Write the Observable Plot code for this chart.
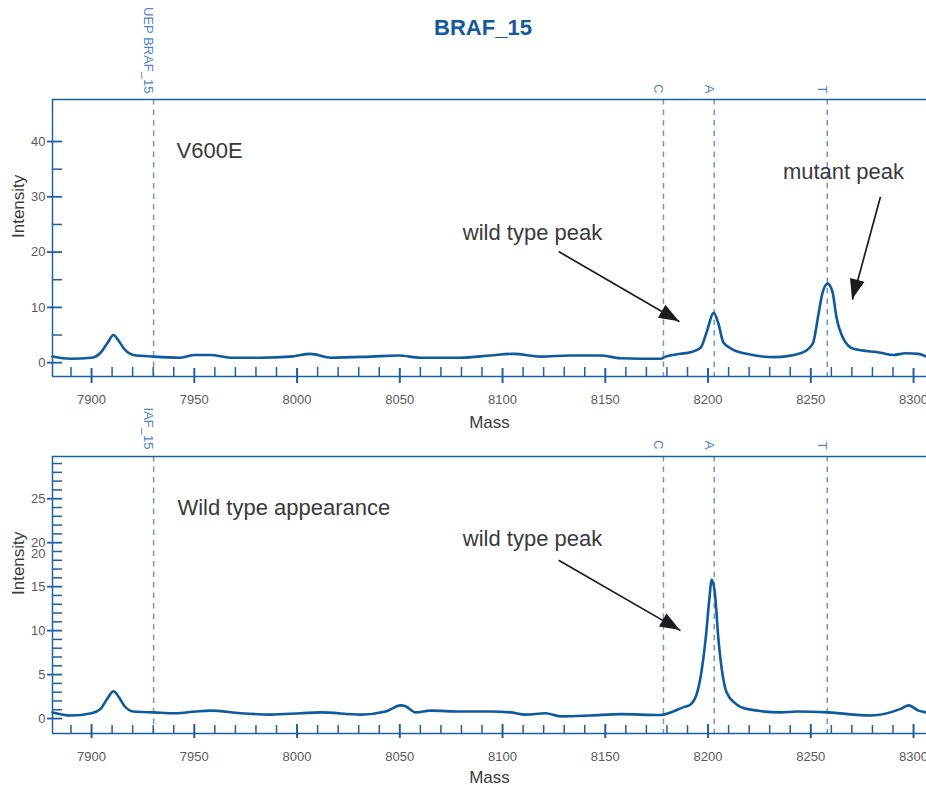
<!DOCTYPE html>
<html><head><meta charset="utf-8">
<script src="https://cdn.jsdelivr.net/npm/d3@7"></script>
<script src="https://cdn.jsdelivr.net/npm/@observablehq/plot@0.6"></script>
<style>
body{margin:0;background:#fff;}
#root{position:relative;width:926px;height:785px;overflow:hidden;font-family:"Liberation Sans",Arial,sans-serif;}
#title{position:absolute;left:483px;top:17px;transform:translateX(-50%);font-size:22px;line-height:22px;font-weight:bold;color:#13599b;white-space:nowrap;}
.panel{position:absolute;left:0;}
</style></head><body>
<div id="root"><div id="top" class="panel" style="top:0"></div><div id="bottom" class="panel" style="top:430px"></div><div id="title">BRAF_15</div></div>
<script>
// ---------- data ----------
const xDomain = [7881, 8306.3];
const xMajorTicks = [7900, 7950, 8000, 8050, 8100, 8150, 8200, 8250, 8300];
const xMinorTicks = [7890, 7910, 7920, 7930, 7940, 7960, 7970, 7980, 7990, 8010, 8020, 8030, 8040,
  8060, 8070, 8080, 8090, 8110, 8120, 8130, 8140, 8160, 8170, 8180, 8190, 8210, 8220, 8230, 8240,
  8260, 8270, 8280, 8290];

const topMass = [7881.0, 7889.8, 7900, 7904.4, 7907.8, 7910.7, 7913.1, 7916.1, 7920.4, 7930.2,
  7943.3, 7950.1, 7957.9, 7967.6, 7982.2, 7996.8, 8006.6, 8016.3, 8035.8, 8049.4,
  8060.1, 8079.6, 8094.2, 8105.4, 8118.5, 8133.1, 8147.7, 8157.4, 8176.9, 8179.3,
  8186.6, 8191.5, 8196.4, 8199.3, 8202.7, 8205.1, 8207.4, 8211.4, 8218.7, 8232.3,
  8245.0, 8250.9, 8253.8, 8255.6, 8258.2, 8260.6, 8262.5, 8265.9, 8270.8, 8283.9,
  8290.3, 8296.1, 8302.4, 8306.3];
const topIntensity = [1.1, 0.7, 0.9, 1.8, 3.6, 5.0, 4.0, 2.4, 1.4, 1.1,
  0.9, 1.4, 1.4, 0.9, 0.9, 1.1, 1.6, 0.9, 1.1, 1.3,
  0.9, 0.9, 1.3, 1.6, 1.1, 1.3, 1.3, 0.8, 0.7, 1.1,
  1.6, 1.9, 2.7, 5.5, 9.0, 7.0, 3.7, 2.5, 1.6, 1.0,
  1.7, 3.4, 8.9, 12.5, 14.3, 12.7, 8.2, 4.3, 2.5, 1.8,
  1.4, 1.7, 1.6, 1.1];

const bottomMass = [7881.0, 7889.8, 7900, 7904.4, 7907.8, 7910.7, 7913.1, 7916.1, 7920.4, 7930.2,
  7940.9, 7950.6, 7957.9, 7972.5, 7987.1, 8001.7, 8011.4, 8030.9, 8043.1, 8050.4,
  8052.8, 8057.7, 8065.0, 8079.6, 8094.2, 8103.9, 8111.2, 8120.9, 8128.2, 8142.8,
  8157.4, 8176.9, 8181.8, 8188.1, 8191.5, 8195.0, 8196.9, 8198.8, 8200.8, 8201.7,
  8203.2, 8205.1, 8209.0, 8213.4, 8218.7, 8235.3, 8243.5, 8258.2, 8279.1, 8293.7,
  8297.6, 8302.4, 8306.3];
const bottomIntensity = [0.7, 0.35, 0.6, 1.1, 2.3, 3.1, 2.5, 1.4, 0.8, 0.7,
  0.6, 0.8, 0.9, 0.6, 0.45, 0.6, 0.7, 0.45, 0.8, 1.5,
  1.4, 0.7, 0.9, 0.8, 0.8, 0.7, 0.45, 0.6, 0.25, 0.35,
  0.5, 0.4, 0.7, 1.3, 1.6, 3.2, 5.5, 9.0, 14.0, 15.8,
  14.5, 8.9, 3.0, 1.7, 1.1, 0.7, 0.8, 0.7, 0.35, 1.1,
  1.5, 0.9, 0.7];

const topLineMass = [7930.2, 8178.3, 8203.0, 8258.0];
const topLineLabel = ["UEP BRAF_15", "C", "A", "T"];
const bottomLineMass = [7930.2, 8178.3, 8203.0, 8258.0];
const bottomLineLabel = ["IAF_15", "C", "A", "T"];

const topYDomain = [-2.5, 47.6];
const topYMajor = [0, 10, 20, 30, 40];
const topYMinor = [5, 15, 25, 35];
const topYLabelPos = [0, 10, 20, 30, 40];
const topYLabelText = ["0", "10", "20", "30", "40"];

const bottomYDomain = [-1.7, 29.8];
const bottomYMajor = [0, 5, 10, 15, 20, 25];
const bottomYMinor = [1, 2, 3, 4, 6, 7, 8, 9, 11, 12, 13, 14, 16, 17, 18, 19, 21, 22, 23, 24, 26, 27, 28, 29];
const bottomYLabelPos = [0, 5, 10, 15, 20, 25, 18.75];
const bottomYLabelText = ["0", "5", "10", "15", "20", "25", "20"];

const topNoteText = ["V600E", "mutant peak", "wild type peak"];
const topNoteMass = [7941.4, 8265.9, 8114.6];
const topNoteIntensity = [38.3, 34.5, 23.5];
const topNoteAnchor = ["start", "middle", "middle"];
const bottomNoteText = ["Wild type appearance", "wild type peak"];
const bottomNoteMass = [7941.8, 8114.6];
const bottomNoteIntensity = [23.9, 20.4];
const bottomNoteAnchor = ["start", "middle"];

const topArrowX1 = [8127.3, 8283.9];
const topArrowY1 = [20.1, 30.0];
const topArrowX2 = [8186.1, 8270.3];
const topArrowY2 = [7.4, 11.4];
const bottomArrowX1 = [8127.3];
const bottomArrowY1 = [18.0];
const bottomArrowX2 = [8186.6];
const bottomArrowY2 = [10.0];

// ---------- style ----------
const FONT = '"Liberation Sans", Arial, sans-serif';
const LINE = "#0d5a9c", AXIS = "#1f60a2", DASH = "#7096cc", LABEL = "#4f84c4", TICK = "#5a5a5a", TXT = "#3a3a3a", ARROW = "#1c1c1c";

function panel(c) {
  const [yLo, yHi] = c.yDomain;
  const x0 = xDomain[0];
  const data = c.mass.map((m, i) => ({mass: m, intensity: c.intensity[i]}));
  const arrows = c.arrowX1.map((_, i) => ({x1: c.arrowX1[i], y1: c.arrowY1[i], x2: c.arrowX2[i], y2: c.arrowY2[i]}));
  const notes = c.noteText.map((t, i) => ({text: t, mass: c.noteMass[i], intensity: c.noteIntensity[i], anchor: c.noteAnchor[i]}));
  const heads = (index, scales) => {
    const g = d3.create("svg:g");
    for (const a of arrows) {
      const sx = scales.x(a.x1), sy = scales.y(a.y1), tx = scales.x(a.x2), ty = scales.y(a.y2);
      const dx = tx - sx, dy = ty - sy, L = Math.hypot(dx, dy), ux = dx / L, uy = dy / L;
      const bx = tx - ux * 20, by = ty - uy * 20, px = -uy * 7.5, py = ux * 7.5;
      g.append("path").attr("d", `M${tx},${ty}L${bx + px},${by + py}L${bx - px},${by - py}Z`).attr("fill", ARROW);
    }
    return g.node();
  };
  return Plot.plot({
    width: 926, height: c.height, marginTop: c.marginTop, marginBottom: c.marginBottom, marginLeft: 52, marginRight: 0,
    x: {domain: xDomain, axis: null},
    y: {domain: c.yDomain, axis: null},
    style: {fontFamily: FONT, overflow: "visible", background: "transparent"},
    marks: [
      Plot.ruleX(c.lineMass, {x: d => d, stroke: DASH, strokeWidth: 1.5, strokeDasharray: "5.5,5"}),
      Plot.line(data, {x: "mass", y: "intensity", stroke: LINE, strokeWidth: 2.6, curve: "monotone-x", strokeLinejoin: "round"}),
      Plot.ruleY([yHi], {stroke: AXIS, strokeWidth: 1.5}),
      Plot.ruleY([yLo], {stroke: AXIS, strokeWidth: 1.5}),
      Plot.ruleX([x0], {stroke: AXIS, strokeWidth: 1.5}),
      Plot.ruleX(xMajorTicks, {x: d => d, y1: () => yLo, y2: () => yLo, insetTop: c.xTickOut, insetBottom: c.xTickIn, stroke: AXIS, strokeWidth: 2}),
      Plot.ruleX(xMinorTicks, {x: d => d, y1: () => yLo, y2: () => yLo, insetTop: 0, insetBottom: c.xMinorIn, stroke: AXIS, strokeWidth: 1.5}),
      Plot.ruleY(c.yMajor, {y: d => d, x1: () => x0, x2: () => x0, insetLeft: -5, insetRight: -10, stroke: AXIS, strokeWidth: 1.8}),
      Plot.ruleY(c.yMinor, {y: d => d, x1: () => x0, x2: () => x0, insetLeft: 0, insetRight: -10, stroke: AXIS, strokeWidth: 1.5}),
      Plot.text(xMajorTicks, {x: d => d, text: d => String(d), frameAnchor: "bottom", dy: 27, fontSize: 13, fill: TICK}),
      Plot.text(c.yLabelPos, {y: d => d, text: (d, i) => c.yLabelText[i], frameAnchor: "left", dx: -7, textAnchor: "end", fontSize: 13, fill: TICK}),
      Plot.text(["Intensity"], {frameAnchor: "left", rotate: -90, dx: -34, fontSize: 17, fill: TXT}),
      Plot.text(["Mass"], {frameAnchor: "bottom", dy: c.massDy, fontSize: 17, fill: TXT}),
      Plot.text(c.lineMass, {x: d => d, text: (d, i) => c.lineLabel[i], frameAnchor: "top", rotate: 90, textAnchor: "end", dy: c.labelDy, fontSize: 13, fill: LABEL}),
      Plot.text(notes, {filter: d => d.anchor === "start", x: "mass", y: "intensity", text: "text", textAnchor: "start", fontSize: 22, fill: TXT}),
      Plot.text(notes, {filter: d => d.anchor === "middle", x: "mass", y: "intensity", text: "text", textAnchor: "middle", fontSize: 22, fill: TXT}),
      Plot.link(arrows, {x1: "x1", y1: "y1", x2: "x2", y2: "y2", stroke: ARROW, strokeWidth: 1.7}),
      heads
    ]
  });
}

document.getElementById("top").appendChild(panel({
  mass: topMass, intensity: topIntensity, yDomain: topYDomain, height: 430, marginTop: 99, marginBottom: 54,
  yMajor: topYMajor, yMinor: topYMinor, yLabelPos: topYLabelPos, yLabelText: topYLabelText,
  lineMass: topLineMass, lineLabel: topLineLabel, labelDy: -6,
  noteText: topNoteText, noteMass: topNoteMass, noteIntensity: topNoteIntensity, noteAnchor: topNoteAnchor,
  arrowX1: topArrowX1, arrowY1: topArrowY1, arrowX2: topArrowX2, arrowY2: topArrowY2,
  xTickOut: 7, xTickIn: 8, xMinorIn: 9, massDy: 51
}));
document.getElementById("bottom").appendChild(panel({
  mass: bottomMass, intensity: bottomIntensity, yDomain: bottomYDomain, height: 355, marginTop: 26, marginBottom: 52,
  yMajor: bottomYMajor, yMinor: bottomYMinor, yLabelPos: bottomYLabelPos, yLabelText: bottomYLabelText,
  lineMass: bottomLineMass, lineLabel: bottomLineLabel, labelDy: -7,
  noteText: bottomNoteText, noteMass: bottomNoteMass, noteIntensity: bottomNoteIntensity, noteAnchor: bottomNoteAnchor,
  arrowX1: bottomArrowX1, arrowY1: bottomArrowY1, arrowX2: bottomArrowX2, arrowY2: bottomArrowY2,
  xTickOut: 5, xTickIn: 9, xMinorIn: 8, massDy: 49
}));
</script>
</body></html>
